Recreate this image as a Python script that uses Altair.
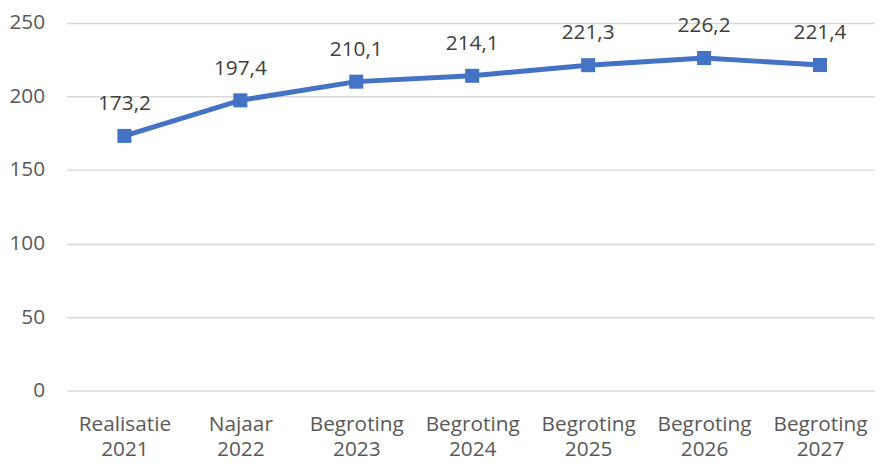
import altair as alt
import pandas as pd

categories = ["Realisatie 2021", "Najaar 2022", "Begroting 2023", "Begroting 2024",
              "Begroting 2025", "Begroting 2026", "Begroting 2027"]
values = [173.2, 197.4, 210.1, 214.1, 221.3, 226.2, 221.4]
value_labels = ["173,2", "197,4", "210,1", "214,1", "221,3", "226,2", "221,4"]
y_ticks = [0, 50, 100, 150, 200, 250]

df = pd.DataFrame({"cat": categories, "val": values, "lbl": value_labels})

FONT = "Open Sans"
LINE = "#4472C4"

x = alt.X("cat:N", sort=categories, title=None,
          scale=alt.Scale(paddingOuter=0.5, paddingInner=1, range=[0, 819]),
          axis=alt.Axis(labelExpr="split(datum.label, ' ')", labelAngle=0,
                        ticks=False, domain=False,
                        grid=False,
                        labelFont=FONT, labelFontSize=21, labelColor="#595959",
                        labelPadding=23, labelLineHeight=26, labelBaseline="top"))
y = alt.Y("val:Q", title=None,
          scale=alt.Scale(domain=[0, 250], nice=False),
          axis=alt.Axis(values=y_ticks, ticks=False, domain=False,
                        gridColor="#d9d9d9", gridWidth=1.5,
                        labelFont=FONT, labelFontSize=21, labelColor="#595959",
                        labelPadding=22))

base = alt.Chart(df).encode(x=x, y=y)

line = base.mark_line(color=LINE, strokeWidth=5)
pts = base.mark_square(color=LINE, size=200, opacity=1)
txt = base.mark_text(dy=-32, font=FONT, fontSize=21, color="#404040").encode(text="lbl:N")

chart = (line + pts + txt).properties(
    width=815, height=371,
    background="white",
    autosize=alt.AutoSizeParams(type="none"),
    padding={"left": 59, "top": 13, "right": 1, "bottom": 75},
).configure_view(stroke="transparent", strokeWidth=0)

chart.save("out.html", embed_options={"renderer": "svg", "actions": False})
